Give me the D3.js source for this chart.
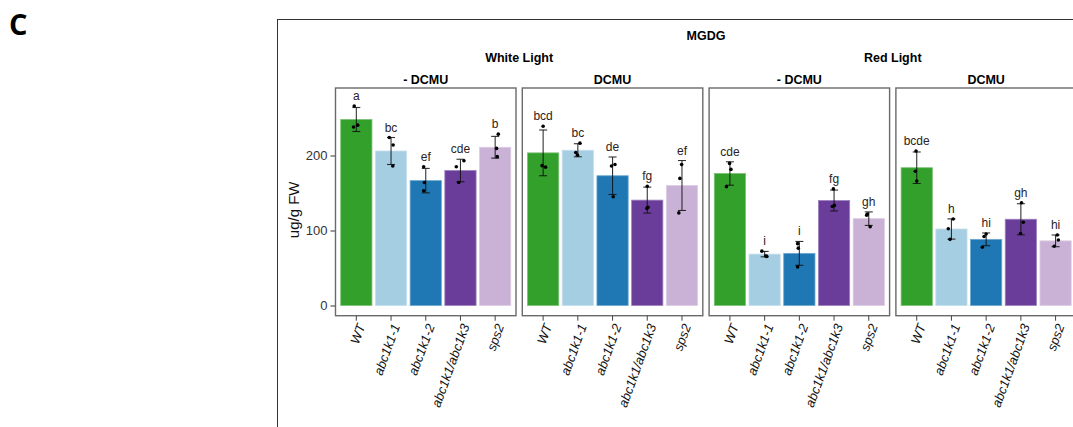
<!DOCTYPE html>
<html>
<head>
<meta charset="utf-8">
<script src="https://cdn.jsdelivr.net/npm/d3@7"></script>
<style>
  html, body { margin: 0; padding: 0; background: #fff; }
  svg { display: block; }
  text { font-family: "Liberation Sans", Arial, sans-serif; }
</style>
</head>
<body>
<svg id="chart" width="1073" height="427"></svg>
<script>
// Genotypes on the x axis of every panel
const genotypes = ["WT", "abc1k1-1", "abc1k1-2", "abc1k1/abc1k3", "sps2"];
const lights = ["White Light", "Red Light"];
const treatments = ["- DCMU", "DCMU"];
const yTicks = [0, 100, 200];

// MGDG content (ug/g FW): bar means, standard deviations, replicate values,
// replicate jitter (in category units) and significance letters per panel.
const meanWhiteNoDCMU = [248, 206, 166.5, 180, 211];
const sdWhiteNoDCMU = [16, 18, 16.3, 15, 14.5];
const repsWhiteNoDCMU = [[266, 240.5, 238], [224, 214, 186], [185, 164, 153], [193, 185, 164], [228.5, 209.5, 198.5]];
const jitterWhiteNoDCMU = [[-0.06, 0.04, -0.08], [-0.05, 0.06, 0.05], [-0.06, -0.04, -0.06], [0.1, -0.12, -0.05], [0.09, 0.04, 0.06]];
const lettersWhiteNoDCMU = ["a", "bc", "ef", "cde", "b"];

const meanWhiteDCMU = [203.5, 207, 173, 140.5, 160];
const sdWhiteDCMU = [30.5, 8.7, 25, 17.3, 33.3];
const repsWhiteDCMU = [[239, 186.5, 184.5], [216.5, 204, 200.5], [188, 186, 145], [159, 131, 129.5], [188, 169.5, 123.5]];
const jitterWhiteDCMU = [[0, -0.03, 0.07], [0.06, -0.06, -0.01], [0.07, -0.03, 0.02], [0, 0.02, -0.01], [-0.01, -0.06, -0.09]];
const lettersWhiteDCMU = ["bcd", "bc", "de", "fg", "ef"];

const meanRedNoDCMU = [176, 68.5, 69.5, 140, 115.8];
const sdRedNoDCMU = [15.6, 3.6, 15.9, 13.9, 9];
const repsRedNoDCMU = [[189.5, 181.5, 158.5], [72.5, 66, 65.5], [82.5, 76.5, 51.5], [155.5, 133.5, 132], [122, 120.5, 105]];
const jitterRedNoDCMU = [[-0.01, 0.03, -0.1], [-0.08, 0.03, 0.06], [-0.05, -0.03, -0.05], [-0.02, 0.01, -0.05], [-0.04, -0.06, 0.04]];
const lettersRedNoDCMU = ["cde", "i", "i", "fg", "gh"];

const meanRedDCMU = [183.7, 102, 88.2, 115, 86.2];
const sdRedDCMU = [21, 13.5, 8.5, 20.7, 7.8];
const repsRedDCMU = [[206, 179, 166], [115.3, 102.4, 88.2], [95.3, 92, 77.6], [137, 111, 96], [94, 87.3, 79]];
const jitterRedDCMU = [[-0.02, -0.04, 0], [0.05, -0.09, -0.04], [0, -0.06, -0.11], [0.02, 0.07, -0.01], [0.05, 0.08, -0.04]];
const lettersRedDCMU = ["bcde", "h", "hi", "gh", "hi"];

// Fill per genotype (Paired palette)
const fills = ["#33a02c", "#a6cee3", "#1f78b4", "#6a3d9a", "#cab2d6"];

const panels = [
  { light: lights[0], treat: treatments[0], mean: meanWhiteNoDCMU, sd: sdWhiteNoDCMU, reps: repsWhiteNoDCMU, jit: jitterWhiteNoDCMU, letters: lettersWhiteNoDCMU },
  { light: lights[0], treat: treatments[1], mean: meanWhiteDCMU, sd: sdWhiteDCMU, reps: repsWhiteDCMU, jit: jitterWhiteDCMU, letters: lettersWhiteDCMU },
  { light: lights[1], treat: treatments[0], mean: meanRedNoDCMU, sd: sdRedNoDCMU, reps: repsRedNoDCMU, jit: jitterRedNoDCMU, letters: lettersRedNoDCMU },
  { light: lights[1], treat: treatments[1], mean: meanRedDCMU, sd: sdRedDCMU, reps: repsRedDCMU, jit: jitterRedDCMU, letters: lettersRedDCMU }
];
panels.forEach((p, i) => p.key = i);

const svg = d3.select("#chart");

// Figure panel letter
svg.append("text")
  .attr("x", 9).attr("y", 35)
  .style("font-family", "'Open Sans', 'DejaVu Sans', sans-serif")
  .style("font-weight", 700).style("font-size", "29px")
  .attr("fill", "#000")
  .text("C");

// Outer plot frame
svg.append("rect")
  .attr("x", 277.5).attr("y", 19.5)
  .attr("width", 900).attr("height", 500)
  .attr("fill", "none").attr("stroke", "#333").attr("stroke-width", 1);

// Layout scales
const panelTop = 88, panelBottom = 315.7;
const y = d3.scaleLinear().domain([-13.6, 290]).range([panelBottom, panelTop]);
const facet = d3.scaleBand().domain(panels.map(p => p.key))
  .range([335.5, 1076.4]).paddingInner(0.0337).paddingOuter(0);
const pw = facet.bandwidth();
const x = d3.scaleBand().domain(genotypes).range([0, pw]).paddingInner(0.1).paddingOuter(0.15);
const unit = x.step();

// Title strips
const gridCenter = (facet(0) + facet(3) + pw) / 2;
svg.append("text").attr("x", gridCenter).attr("y", 40)
  .attr("text-anchor", "middle").style("font-weight", 700).style("font-size", "12.5px")
  .text("MGDG");
lights.forEach((l, li) => {
  const cx = (facet(li * 2) + facet(li * 2 + 1) + pw) / 2;
  svg.append("text").attr("x", cx).attr("y", 62)
    .attr("text-anchor", "middle").style("font-weight", 700).style("font-size", "12.5px")
    .text(l);
});

// Y axis on the first panel
const yAxis = d3.axisLeft(y).tickValues(yTicks).tickSize(5).tickPadding(3);
const gy = svg.append("g").attr("transform", `translate(${facet(0)},0)`).call(yAxis);
gy.select(".domain").remove();
gy.selectAll(".tick line").attr("stroke", "#333");
gy.selectAll(".tick text").attr("fill", "#333").style("font-size", "13px")
  .style("font-family", "'Liberation Sans', Arial, sans-serif");

svg.append("text")
  .attr("transform", `translate(299,${(panelTop + panelBottom) / 2 + 8}) rotate(-90)`)
  .attr("text-anchor", "middle").style("font-size", "15px").attr("fill", "#111")
  .text("ug/g FW");

panels.forEach(p => {
  const g = svg.append("g").attr("transform", `translate(${facet(p.key)},0)`);

  // Treatment strip label
  g.append("text").attr("x", pw / 2).attr("y", 83.5)
    .attr("text-anchor", "middle").style("font-weight", 700).style("font-size", "12.5px")
    .text(p.treat);

  const rows = genotypes.map((gname, i) => ({
    g: gname, i, mean: p.mean[i], sd: p.sd[i], reps: p.reps[i], jit: p.jit[i], letter: p.letters[i]
  }));

  // Bars
  g.selectAll("rect.bar").data(rows).join("rect")
    .attr("class", "bar")
    .attr("x", d => x(d.g)).attr("width", x.bandwidth())
    .attr("y", d => y(d.mean)).attr("height", d => y(0) - y(d.mean))
    .attr("fill", d => fills[d.i])
    .attr("stroke", d => d3.interpolateRgb(fills[d.i], "#fff")(0.35))
    .attr("stroke-width", 0.8);

  // Error bars (mean ± sd)
  const cap = 4;
  const eb = g.selectAll("g.err").data(rows).join("g").attr("class", "err")
    .attr("stroke", "#111").attr("stroke-opacity", 0.85).attr("stroke-width", 1.1);
  eb.append("line")
    .attr("x1", d => x(d.g) + x.bandwidth() / 2).attr("x2", d => x(d.g) + x.bandwidth() / 2)
    .attr("y1", d => y(d.mean - d.sd)).attr("y2", d => y(d.mean + d.sd));
  eb.append("line")
    .attr("x1", d => x(d.g) + x.bandwidth() / 2 - cap).attr("x2", d => x(d.g) + x.bandwidth() / 2 + cap)
    .attr("y1", d => y(d.mean + d.sd)).attr("y2", d => y(d.mean + d.sd));
  eb.append("line")
    .attr("x1", d => x(d.g) + x.bandwidth() / 2 - cap).attr("x2", d => x(d.g) + x.bandwidth() / 2 + cap)
    .attr("y1", d => y(d.mean - d.sd)).attr("y2", d => y(d.mean - d.sd));

  // Replicate points
  const pts = rows.flatMap(d => d.reps.map((v, k) => ({ g: d.g, v, j: d.jit[k] })));
  g.selectAll("circle.rep").data(pts).join("circle")
    .attr("class", "rep")
    .attr("cx", d => x(d.g) + x.bandwidth() / 2 + d.j * unit)
    .attr("cy", d => y(d.v)).attr("r", 1.8).attr("fill", "#000");

  // Significance letters above the highest replicate
  g.selectAll("text.letter").data(rows).join("text")
    .attr("class", "letter")
    .attr("x", d => x(d.g) + x.bandwidth() / 2)
    .attr("y", d => Math.min(y(d3.max(d.reps)), y(d.mean + d.sd)) - 6)
    .attr("text-anchor", "middle").style("font-size", "12px").attr("fill", "#2a2222")
    .text(d => d.letter);

  // Panel border
  g.append("rect").attr("x", 0).attr("y", panelTop).attr("width", pw).attr("height", panelBottom - panelTop)
    .attr("fill", "none").attr("stroke", "#6a6a6a").attr("stroke-width", 1.4);

  // X axis with rotated italic genotype labels
  const xAxis = d3.axisBottom(x).tickSize(5).tickPadding(3);
  const gx = g.append("g").attr("transform", `translate(0,${panelBottom})`).call(xAxis);
  gx.select(".domain").remove();
  gx.selectAll(".tick line").attr("stroke", "#444");
  gx.selectAll(".tick text")
    .attr("text-anchor", "end")
    .attr("transform", "translate(0,7) rotate(-70)")
    .attr("x", 0).attr("y", 0).attr("dy", "0.75em")
    .attr("fill", "#111")
    .style("font-size", "13px").style("font-style", "italic")
    .style("font-family", "'Liberation Sans', Arial, sans-serif");
});
</script>
</body>
</html>
